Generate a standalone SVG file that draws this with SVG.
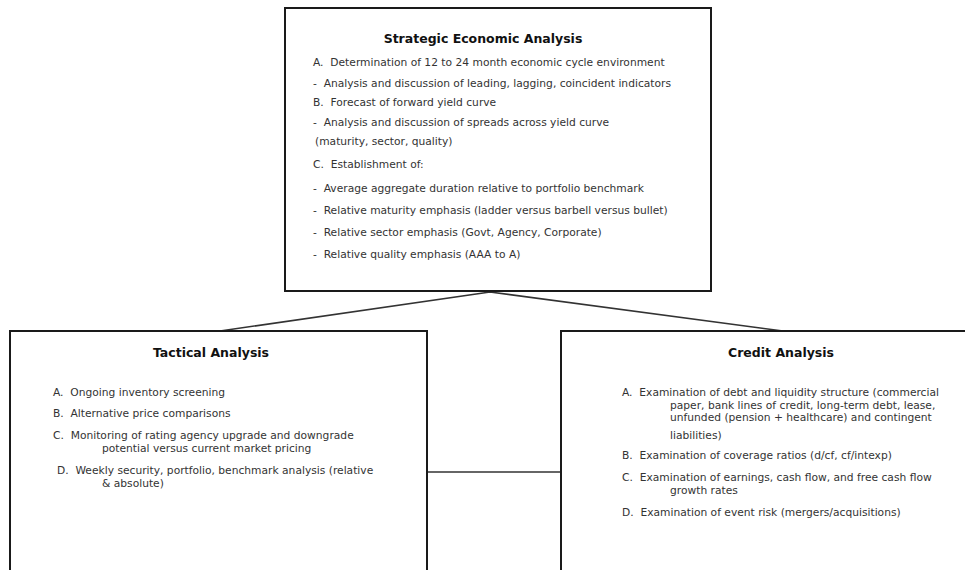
<svg xmlns="http://www.w3.org/2000/svg" width="965" height="570" viewBox="0 0 965 570">
<style>
.box{fill:#fff;stroke:#1a1a1a;stroke-width:2}
.t{font-family:"DejaVu Sans",Verdana,sans-serif;font-size:10.7px;fill:#333;white-space:pre}
.h{font-family:"DejaVu Sans",Verdana,sans-serif;font-size:12.5px;font-weight:bold;fill:#111;text-anchor:middle}
.c{fill:none;stroke:#333;stroke-width:1.6}
</style>
<rect width="965" height="570" fill="#fff"/>
<g id="connectors">
<path class="c" d="M220,331 L490,292 L783,331"/>
<path class="c" d="M427,472 L561,472" stroke="#555"/>
</g>
<g id="strategic">
<rect class="box" x="285" y="8" width="426" height="283"/>
<text class="h" x="483" y="43">Strategic Economic Analysis</text>
<text class="t" x="313" y="66" xml:space="preserve">A.  Determination of 12 to 24 month economic cycle environment</text>
<text class="t" x="313" y="87" xml:space="preserve">-  Analysis and discussion of leading, lagging, coincident indicators</text>
<text class="t" x="313" y="106" xml:space="preserve">B.  Forecast of forward yield curve</text>
<text class="t" x="313" y="126" xml:space="preserve">-  Analysis and discussion of spreads across yield curve</text>
<text class="t" x="315" y="145" xml:space="preserve">(maturity, sector, quality)</text>
<text class="t" x="313" y="168" xml:space="preserve">C.  Establishment of:</text>
<text class="t" x="313" y="192" xml:space="preserve">-  Average aggregate duration relative to portfolio benchmark</text>
<text class="t" x="313" y="214" xml:space="preserve">-  Relative maturity emphasis (ladder versus barbell versus bullet)</text>
<text class="t" x="313" y="236" xml:space="preserve">-  Relative sector emphasis (Govt, Agency, Corporate)</text>
<text class="t" x="313" y="258" xml:space="preserve">-  Relative quality emphasis (AAA to A)</text>
</g>
<g id="tactical">
<path class="box" d="M10,575 L10,331 L427,331 L427,575"/>
<text class="h" x="211" y="357">Tactical Analysis</text>
<text class="t" x="53" y="396" xml:space="preserve">A.  Ongoing inventory screening</text>
<text class="t" x="53" y="417" xml:space="preserve">B.  Alternative price comparisons</text>
<text class="t" x="53" y="439" xml:space="preserve">C.  Monitoring of rating agency upgrade and downgrade</text>
<text class="t" x="102" y="452" xml:space="preserve">potential versus current market pricing</text>
<text class="t" x="57" y="474" xml:space="preserve">D.  Weekly security, portfolio, benchmark analysis (relative</text>
<text class="t" x="102" y="487" xml:space="preserve">&amp; absolute)</text>
</g>
<g id="credit">
<path class="box" d="M970,331 L561,331 L561,575"/>
<text class="h" x="781" y="357">Credit Analysis</text>
<text class="t" x="622" y="396" xml:space="preserve">A.  Examination of debt and liquidity structure (commercial</text>
<text class="t" x="670" y="409" xml:space="preserve">paper, bank lines of credit, long-term debt, lease,</text>
<text class="t" x="670" y="421" xml:space="preserve">unfunded (pension + healthcare) and contingent</text>
<text class="t" x="670" y="439" xml:space="preserve">liabilities)</text>
<text class="t" x="622" y="459" xml:space="preserve">B.  Examination of coverage ratios (d/cf, cf/intexp)</text>
<text class="t" x="622" y="481" xml:space="preserve">C.  Examination of earnings, cash flow, and free cash flow</text>
<text class="t" x="670" y="494" xml:space="preserve">growth rates</text>
<text class="t" x="622" y="516" xml:space="preserve">D.  Examination of event risk (mergers/acquisitions)</text>
</g>
</svg>
